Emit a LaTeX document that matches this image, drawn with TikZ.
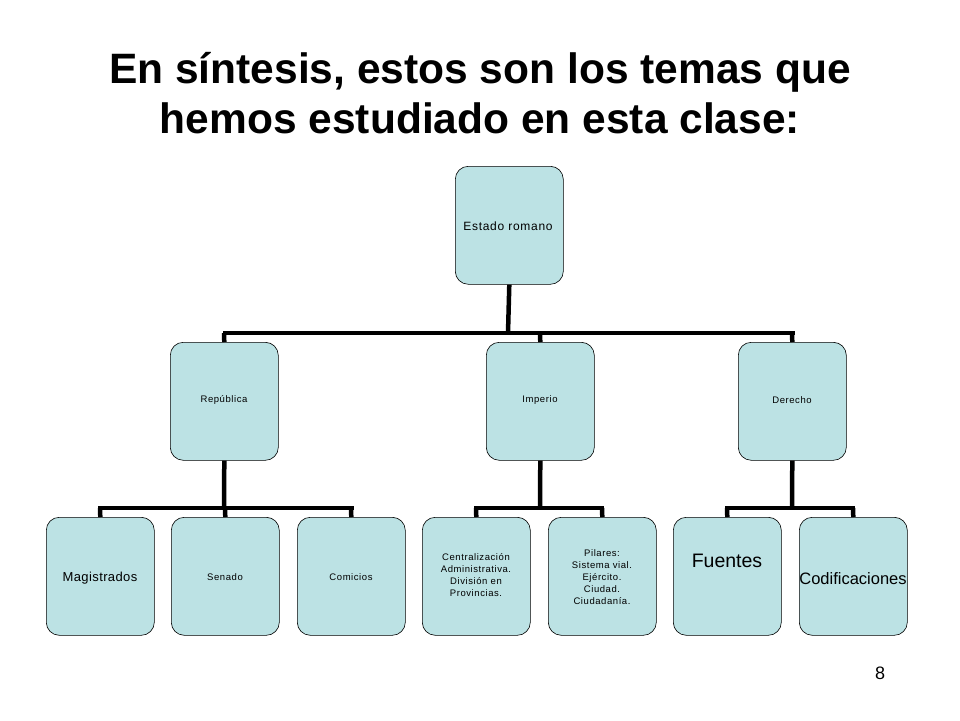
\documentclass[tikz,border=0pt]{standalone}
\usepackage{fontspec}
\setmainfont{Liberation Sans}
\definecolor{boxblue}{HTML}{BCE2E4}
\begin{document}
\begin{tikzpicture}[x=1pt,y=-1pt,
  bx/.style={draw=black,line width=0.6pt,fill=boxblue,rounded corners=13pt,minimum width=108pt,minimum height=118pt,anchor=north west,inner sep=0pt},
  lnk/.style={line width=4.5pt},
  sm/.style={align=center,font=\addfontfeature{LetterSpace=6}\fontsize{9.5}{12}\selectfont}]
\useasboundingbox (0,0) rectangle (960,720);
\node[font=\bfseries\fontsize{42.5}{50}\selectfont,align=center] (title) at (480,93) {En síntesis, estos son los temas que\\hemos estudiado en esta clase:};
\node[bx] (root) at (455,166) {};
\node[align=center,font=\addfontfeature{LetterSpace=6}\fontsize{12}{14}\selectfont] (rootT) at (508,226) {Estado romano};
\node[bx] (rep) at (170,342) {};
\node[bx] (imp) at (486,342) {};
\node[bx] (der) at (738,342) {};
\node[sm] (repT) at (224,400) {República};
\node[sm] (impT) at (540,400) {Imperio};
\node[sm] (derT) at (792,400) {Derecho};
\node[bx] (mag) at (46,517) {};
\node[bx] (sen) at (171,517) {};
\node[bx] (com) at (297,517) {};
\node[bx] (cen) at (422,517) {};
\node[bx] (pil) at (548,517) {};
\node[bx] (fue) at (673,517) {};
\node[bx] (cod) at (799,517) {};
\node[font=\addfontfeature{LetterSpace=3}\fontsize{13}{15}\selectfont] at (100,578) {Magistrados};
\node[sm] at (225,577) {Senado};
\node[sm] at (351,577) {Comicios};
\node[sm] at (476,575) {Centralización\\Administrativa.\\División en\\Provincias.};
\node[sm] at (602,577) {Pilares:\\Sistema vial.\\Ejército.\\Ciudad.\\Ciudadanía.};
\node[font=\fontsize{19.5}{22}\selectfont] at (727,561) {Fuentes};
\node[font=\fontsize{16.5}{19}\selectfont] at (853,579) {Codificaciones};
\node[font=\fontsize{18}{20}\selectfont] (num) at (880,673) {8};
\draw[lnk] (root.south) -- (508,333);
\draw[lnk] (223,333) -- (795,333);
\draw[lnk] (rep.north) -- (224,333);
\draw[lnk] (imp.north) -- (540,333);
\draw[lnk] (der.north) -- (792,333);
\draw[lnk] (rep.south) -- (224,508);
\draw[lnk] (imp.south) -- (540,508);
\draw[lnk] (der.south) -- (792,508);
\draw[lnk] (98,508) -- (354,508);
\draw[lnk] (474,508) -- (604,508);
\draw[lnk] (725,508) -- (855,508);
\draw[lnk] (mag.north) -- (100,508);
\draw[lnk] (sen.north) -- (225,508);
\draw[lnk] (com.north) -- (351,508);
\draw[lnk] (cen.north) -- (476,508);
\draw[lnk] (pil.north) -- (602,508);
\draw[lnk] (fue.north) -- (727,508);
\draw[lnk] (cod.north) -- (853,508);
\end{tikzpicture}
\end{document}
